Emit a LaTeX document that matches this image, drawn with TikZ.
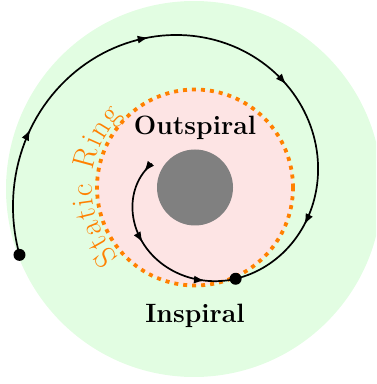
\documentclass[tikz,border=0pt]{standalone}
\usetikzlibrary{decorations.markings,arrows.meta,calc}
\definecolor{bggreen}{RGB}{226,253,226}
\definecolor{bgpink}{RGB}{253,228,228}
\tikzset{
  spiralline/.style={line width=1.7pt, black},
  dotnode/.style={circle, fill=black, inner sep=0pt, minimum size=12pt},
  labeltext/.style={font=\fontsize{26.5}{30}\selectfont\bfseries, anchor=base},
  ringchar/.style={font=\fontsize{31}{31}\selectfont, text=orange, anchor=base, inner sep=0pt},
  ringline/.style={orange, line width=3.8pt, dash pattern=on 4pt off 5pt}
}
\begin{document}
\begin{tikzpicture}[x=1pt,y=1pt]
\useasboundingbox (0,0) rectangle (376,384);
\coordinate (C) at (195,196.5);
\begin{scope}
  \clip (0,0) rectangle (376,384);
  \fill[bggreen] (194,195) circle (188);
\end{scope}
\fill[bgpink] (C) circle (98);
\draw[ringline] (C) circle (98);
\fill[gray] (C) circle (38);
% Static Ring text, letter by letter along an arc
\foreach \ch/\s [count=\i] in {S/8.62, t/23.77, a/38.05, t/52.33, i/63.17, c/74.86,
    R/104.47, i/120.69, n/134.12, g/150.99} {
  \pgfmathsetmacro\ang{223-\s*0.55629}
  \node[ringchar, rotate=\ang-90] (ring\i) at ($(C)+(\ang:103)$) {\ch};
}
% outer spiral
\draw[spiralline,
  postaction={decorate, decoration={markings,
    mark=at position 0.19 with {\arrow{Latex[length=11pt,width=8pt]}},
    mark=at position 0.42 with {\arrow{Latex[length=11pt,width=8pt]}},
    mark=at position 0.645 with {\arrow{Latex[length=11pt,width=8pt]}},
    mark=at position 0.867 with {\arrow{Latex[length=11pt,width=8pt]}}}}]
  plot[domain=0:267, samples=120, variable=\t]
  ({195+(188-0.33*\t)*cos(201-\t)}, {196.5+(188-0.33*\t)*sin(201-\t)});
% inner spiral
\draw[spiralline,
  postaction={decorate, decoration={markings,
    mark=at position 0.06 with {\arrow{Latex[length=11pt,width=8pt]}},
    mark=at position 0.45 with {\arrow{Latex[length=11pt,width=8pt]}},
    mark=at position 0.84 with {\arrow{Latex[length=11pt,width=8pt]}}}}]
  plot[domain=151:294, samples=80, variable=\t]
  ({195+(49+0.357*(\t-151))*cos(\t)}, {196.5+(49+0.357*(\t-151))*sin(\t)});
\node[dotnode] (start) at ({195+188*cos(201)}, {196.5+188*sin(201)}) {};
\node[dotnode] (meet) at ({195+99.9*cos(294)}, {196.5+99.9*sin(294)}) {};
\node[labeltext] (out) at (195,250) {Outspiral};
\node[labeltext] (in) at (195,62) {Inspiral};
\end{tikzpicture}
\end{document}
